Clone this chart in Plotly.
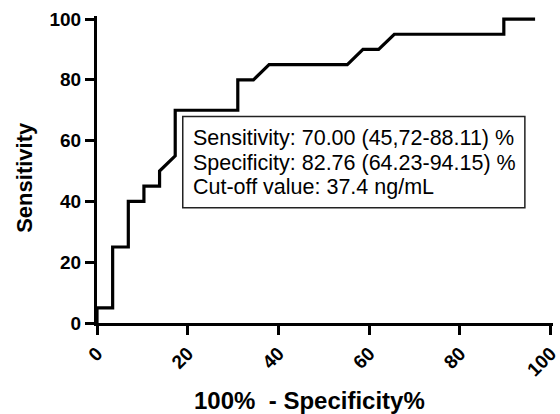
import plotly.graph_objects as go

# ROC curve points (100% - Specificity%, Sensitivity%)
fpr = [0, 0, 3.45, 3.45, 6.90, 6.90, 10.34, 10.34, 13.79, 13.79, 17.24, 17.24,
       31.03, 31.03, 34.48, 37.93, 55.17, 58.62, 62.07, 65.52, 89.66, 89.66, 96.55]
sens = [0, 5, 5, 25, 25, 40, 40, 45, 45, 50, 55, 70,
        70, 80, 80, 85, 85, 90, 90, 95, 95, 100, 100]

x_ticks = [0, 20, 40, 60, 80, 100]
y_ticks = [0, 20, 40, 60, 80, 100]

info_lines = [
    "Sensitivity: 70.00 (45,72-88.11) %",
    "Specificity: 82.76 (64.23-94.15) %",
    "Cut-off value: 37.4 ng/mL",
]
info_y = [60.9, 52.6, 44.7]

x_title = "100%  - Specificity%"
y_title = "Sensitivity"

FONT = "Arial, Liberation Sans, sans-serif"

fig = go.Figure()
fig.add_trace(go.Scatter(x=fpr, y=sens, mode="lines",
                         line=dict(color="black", width=3.2), showlegend=False,
                         hoverinfo="x+y"))

fig.add_shape(type="rect", xref="x", yref="y", x0=18.9, x1=94.3, y0=37.9, y1=67.9,
              line=dict(color="#222222", width=1.5), fillcolor="white", layer="above")
for line_text, yy in zip(info_lines, info_y):
    fig.add_annotation(
        x=20.7, y=yy, xref="x", yref="y", xanchor="left", yanchor="middle",
        text=line_text, align="left", showarrow=False,
        font=dict(family=FONT, size=21.5, color="black"),
    )

# axis titles
fig.add_annotation(x=0.467, y=-0.251, xref="paper", yref="paper",
                   xanchor="center", yanchor="middle", showarrow=False,
                   text="<b>" + x_title + "</b>", font=dict(family=FONT, size=24, color="black"))
fig.add_annotation(x=-0.158, y=0.476, xref="paper", yref="paper",
                   xanchor="center", yanchor="middle", showarrow=False, textangle=-90,
                   text="<b>" + y_title + "</b>", font=dict(family=FONT, size=22, color="black"))

fig.update_layout(
    width=560, height=414,
    margin=dict(l=97, r=7, t=16, b=91),
    paper_bgcolor="white", plot_bgcolor="white",
    font=dict(family=FONT, color="black"),
)
fig.update_xaxes(
    range=[0, 100.5], tickvals=x_ticks, ticktext=[str(v) for v in x_ticks],
    tickangle=-45, ticks="outside", ticklen=9, tickwidth=3, tickcolor="black",
    showline=True, linewidth=3, linecolor="black", showgrid=False, zeroline=False,
    automargin=False, ticklabeloverflow="allow",
    tickfont=dict(family=FONT, size=19, color="black", weight="bold"),
)
fig.update_yaxes(
    range=[0, 101], tickvals=y_ticks, ticktext=[str(v) for v in y_ticks],
    ticks="outside", ticklen=9, tickwidth=3, tickcolor="black",
    showline=True, linewidth=3, linecolor="black", showgrid=False, zeroline=False,
    automargin=False, ticklabeloverflow="allow",
    tickfont=dict(family=FONT, size=19, color="black", weight="bold"),
)

fig.write_html("out.html", config={"displayModeBar": False},
               post_script="document.body.style.margin='0';")
